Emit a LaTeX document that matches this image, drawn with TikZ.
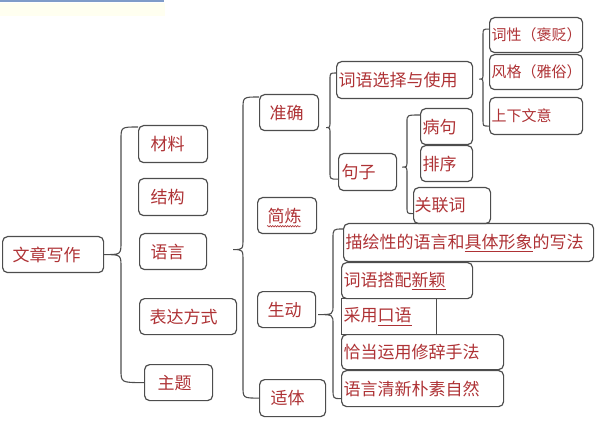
\documentclass[tikz,border=0pt]{standalone}
\usepackage{fontspec}
\newfontfamily\cjk{Noto Sans CJK SC}
\usetikzlibrary{calc,decorations.pathmorphing}
\definecolor{zihong}{HTML}{AE3235}
\definecolor{biankuang}{HTML}{4D4D4D}
\definecolor{lanse}{HTML}{7F9CC9}
\definecolor{qianhuang}{HTML}{FFFFF0}
% curly brace: tip, vertical line, top end, bottom end, corner size
\newcommand{\kuohao}[5]{%
  \draw[kuo] (#3) .. controls (#3 -| #2) .. ($(#3 -| #2)+(0,#5)$)
    -- ($(#1 -| #2)-(0,#5)$) .. controls (#1 -| #2) .. (#1)
    .. controls (#1 -| #2) .. ($(#1 -| #2)+(0,#5)$)
    -- ($(#4 -| #2)-(0,#5)$) .. controls (#4 -| #2) .. (#4);}
\begin{document}
\begin{tikzpicture}[x=1pt, y=-1pt,
  font=\cjk\fontsize{17}{20}\selectfont,
  kuang/.style={draw=biankuang, line width=1.2pt, rounded corners=5pt, anchor=north west,
    align=left, text=zihong, inner ysep=0pt, minimum height=36pt},
  xiao/.style={kuang, font=\cjk\fontsize{15}{18}\selectfont},
  kuo/.style={draw=biankuang, line width=1.1pt}
]
\useasboundingbox (0,0) rectangle (602,430);
\fill[qianhuang] (0,3) rectangle (165,16);
\fill[lanse] (0,0) rectangle (164,2.5);

\node[kuang, text width=81pt, inner xsep=10pt] (zuowen) at (2,236) {文章写作};

\node[kuang, text width=45pt, inner xsep=12pt, minimum height=37pt] (cailiao) at (138,125) {材料};
\node[kuang, text width=45pt, inner xsep=12pt, minimum height=37pt] (jiegou) at (138,178) {结构};
\node[kuang, text width=45pt, inner xsep=11pt] (yuyan) at (139,233) {语言};
\node[kuang, text width=77pt, inner xsep=10pt] (biaoda) at (139,298) {表达方式};
\node[kuang, text width=42pt, inner xsep=13pt] (zhuti) at (144,364) {主题};

\node[kuang, text width=39pt, inner xsep=10pt] (zhunque) at (259,94) {准确};
\node[kuang, text width=39pt, inner xsep=10pt] (jianlian) at (257,197) {简炼};
\node[kuang, text width=38pt, inner xsep=10pt] (shengdong) at (257,291) {生动};
\node[kuang, text width=44pt, inner xsep=11pt, minimum height=37pt] (shiti) at (259,379) {适体};

\node[kuang, text width=132pt, inner xsep=2pt, minimum height=37pt] (cixuan) at (336,61) {词语选择与使用};
\node[kuang, text width=52pt, inner xsep=3pt, minimum height=37pt] (juzi) at (338,153) {句子};

\node[xiao, text width=89pt, inner xsep=2pt, minimum height=35pt] (cixing) at (489,17) {词性（褒贬）};
\node[xiao, text width=89pt, inner xsep=2pt, minimum height=35pt] (fengge) at (489,54) {风格（雅俗）};
\node[xiao, text width=89pt, inner xsep=2pt, minimum height=37pt] (shangxia) at (489,97) {上下文意};

\node[kuang, text width=48pt, inner xsep=2pt] (bingju) at (420,108) {病句};
\node[kuang, text width=48pt, inner xsep=2pt] (paixu) at (420,145) {排序};
\node[kuang, text width=75pt, inner xsep=1pt] (guanlian) at (413,187) {关联词};

\node[kuang, text width=246pt, inner xsep=2pt, minimum height=38pt] (miaohui) at (343,223) {描绘性的语言和\underline{具体形象}的写法};
\node[kuang, text width=127pt, inner xsep=2pt] (dapei) at (341,262) {词语搭配\underline{新颖}};
\node[kuang, sharp corners, text width=91pt, inner xsep=2pt] (kouyu) at (341,298) {采用\underline{口语}};
\node[kuang, text width=158pt, inner xsep=2pt, minimum height=35pt] (qiadang) at (341,334) {恰当运用修辞手法};
\node[kuang, text width=158pt, inner xsep=2pt] (qingxin) at (341,370) {语言清新朴素自然};

\draw[zihong, line width=0.6pt, decorate, decoration={snake, amplitude=0.7pt, segment length=2.5pt}]
  ($(jianlian.south west)+(10,-8)$) -- ++(34,0);

\coordinate (shu1) at (121,0);
\coordinate (ding1) at ($(cailiao.north west)+(0,2)$);
\coordinate (di1) at (zhuti.west);
\kuohao{zuowen.east}{shu1}{ding1}{di1}{13}

\coordinate (shu2) at (243,0);
\coordinate (jian2) at ($(yuyan.east)+(26,-2)$);
\coordinate (ding2) at ($(zhunque.north west)+(0,3)$);
\coordinate (di2) at (shiti.west);
\kuohao{jian2}{shu2}{ding2}{di2}{12}

\coordinate (shu3) at (330,0);
\coordinate (jian3) at ($(zhunque.east)+(7,15)$);
\coordinate (ding3) at ($(cixuan.north west)+(0,12)$);
\coordinate (di3) at ($(juzi.south west)+(0,-12)$);
\kuohao{jian3}{shu3}{ding3}{di3}{7}

\coordinate (shu4) at (483,0);
\coordinate (jian4) at ($(cixuan.east)+(6,-1)$);
\coordinate (ding4) at ($(cixing.west)+(0,-6)$);
\coordinate (di4) at ($(shangxia.west)+(0,10)$);
\kuohao{jian4}{shu4}{ding4}{di4}{6}

\coordinate (shu5) at (407,0);
\coordinate (jian5) at ($(juzi.east)+(5,-5)$);
\coordinate (ding5) at ($(bingju.north west)+(0,7)$);
\coordinate (di5) at ($(guanlian.west)+(0,8)$);
\kuohao{jian5}{shu5}{ding5}{di5}{7}

\coordinate (shu6) at (333,0);
\coordinate (jian6) at ($(shengdong.east)+(2,5)$);
\coordinate (ding6) at ($(miaohui.north west)+(0,6)$);
\coordinate (di6) at ($(qingxin.west)+(0,10)$);
\kuohao{jian6}{shu6}{ding6}{di6}{10}
\end{tikzpicture}
\end{document}
